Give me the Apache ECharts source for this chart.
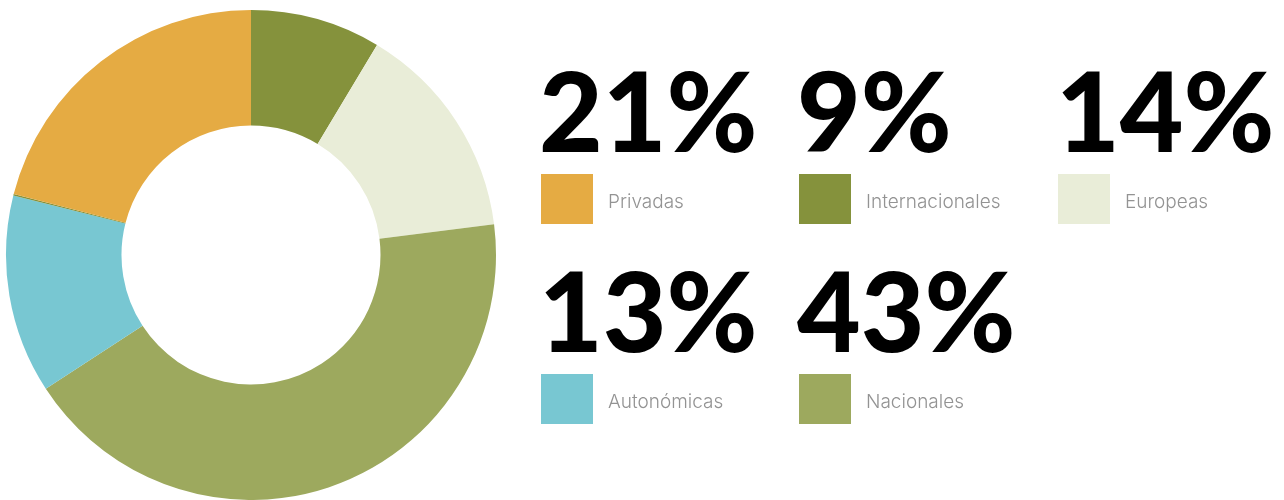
<!DOCTYPE html>
<html><head><meta charset="utf-8">
<script src="https://cdn.jsdelivr.net/npm/echarts@6/dist/echarts.min.js"></script>
<style>html,body{margin:0;padding:0;background:#fff}#c{width:1284px;height:500px}</style>
</head><body><div id="c"></div>
<script>
// Slices clockwise from 12 o'clock
const sliceNames = ['Internacionales', 'Europeas', 'Nacionales', 'Autonómicas', 'Otras', 'Privadas'];
const sliceValues = [8.6, 14.4, 42.8, 13.1, 0.1, 21.0];
const sliceColors = ['#85923C', '#E9EDD8', '#9DA95E', '#78C7D2', '#85923C', '#E5AB43'];

// Legend entries (in reading order)
const legendNames = ['Privadas', 'Internacionales', 'Europeas', 'Autonómicas', 'Nacionales'];
const legendPercents = ['21%', '9%', '14%', '13%', '43%'];
const legendColors = ['#E5AB43', '#85923C', '#E9EDD8', '#78C7D2', '#9DA95E'];

const chart = echarts.init(document.getElementById('c'));
const colX = [541, 799, 1058];
const rowY = [0, 200];
const graphics = [];
legendNames.forEach((n, i) => {
  const x = colX[i % 3], dy = rowY[Math.floor(i / 3)];
  graphics.push({type: 'text', x: x - 2, y: 117 + dy, style: {text: legendPercents[i], font: '900 110px Lato', fill: '#000', verticalAlign: 'middle', align: 'left'}});
  graphics.push({type: 'rect', shape: {x: x, y: 174 + dy, width: 52, height: 50}, style: {fill: legendColors[i]}});
  graphics.push({type: 'text', x: x + 67, y: 202 + dy, style: {text: n, font: '300 19px Inter', fill: '#939393', verticalAlign: 'middle', align: 'left'}});
});
chart.setOption({
  animation: false,
  graphic: graphics,
  series: [{
    type: 'pie',
    center: [251, 255],
    radius: [129.5, 245],
    startAngle: 90,
    clockwise: true,
    label: {show: false},
    labelLine: {show: false},
    data: sliceNames.map((n, i) => ({name: n, value: sliceValues[i], itemStyle: {color: sliceColors[i]}}))
  }]
});
</script></body></html>
